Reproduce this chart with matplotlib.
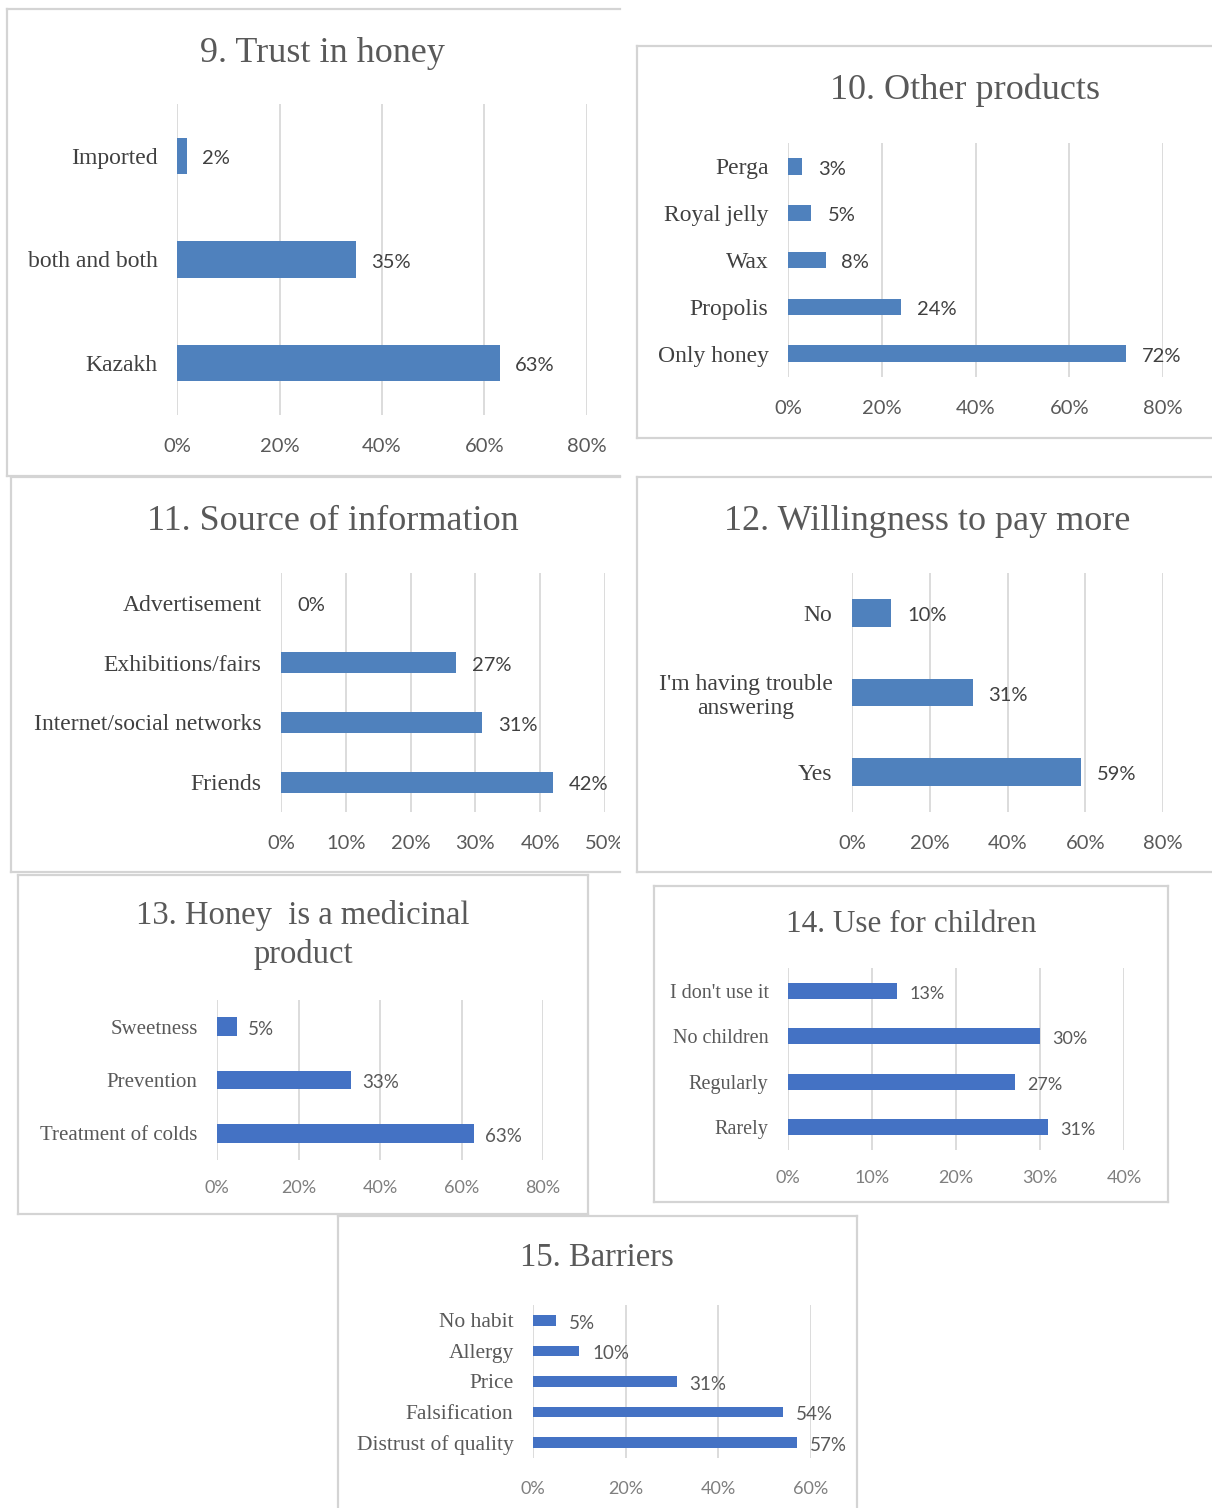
import numpy as np
import matplotlib
matplotlib.use("Agg")
import matplotlib.pyplot as plt
from matplotlib.lines import Line2D
from matplotlib.transforms import Bbox, TransformedBbox

W, H = 1212, 1508
SERIF = "Liberation Serif"
SANS = "Lato"

# data (categories top -> bottom)
trust_cats = ["Imported", "both and both", "Kazakh"]
trust_vals = [2, 35, 63]

other_cats = ["Perga", "Royal jelly", "Wax", "Propolis", "Only honey"]
other_vals = [3, 5, 8, 24, 72]

source_cats = ["Advertisement", "Exhibitions/fairs", "Internet/social networks", "Friends"]
source_vals = [0, 27, 31, 42]

pay_cats = ["No", "I'm having trouble\nanswering", "Yes"]
pay_vals = [10, 31, 59]

medic_cats = ["Sweetness", "Prevention", "Treatment of colds"]
medic_vals = [5, 33, 63]

child_cats = ["I don't use it", "No children", "Regularly", "Rarely"]
child_vals = [13, 30, 27, 31]

barrier_cats = ["No habit", "Allergy", "Price", "Falsification", "Distrust of quality"]
barrier_vals = [5, 10, 31, 54, 57]

BLUE1 = "#4F81BD"
BLUE2 = "#4472C4"
GRID = "#D9D9D9"
BORDER = "#D4D4D4"

fig = plt.figure(figsize=(W / 100, H / 100), dpi=100)
fig.patch.set_facecolor("white")


def fx(x):
    return x / W


def fy(y):
    return 1 - y / H


def line(x0, y0, x1, y1):
    fig.add_artist(Line2D([fx(x0), fx(x1)], [fy(y0), fy(y1)], color=BORDER, lw=1.6))


def box(x0, y0, x1, y1, sides="tlbr"):
    if "t" in sides:
        line(x0, y0, x1, y0)
    if "b" in sides:
        line(x0, y1, x1, y1)
    if "l" in sides:
        line(x0, y0, x0, y1)
    if "r" in sides:
        line(x1, y0, x1, y1)


def title(cx, cy, txt, size, ls=1.15):
    fig.text(fx(cx), fy(cy), txt, ha="center", va="center", fontsize=size,
             family=SERIF, color="#595959", linespacing=ls)


def panel(px, cats, vals, xmax, step, color, cat_size, tick_size, val_size,
          cat_color, tick_color, val_color, tick_dist, val_off, cat_pad=14, height=0.35):
    x0, x1, y0, y1 = px
    ax = fig.add_axes([fx(x0), fy(y1), (x1 - x0) / W, (y1 - y0) / H])
    n = len(cats)
    ypos = np.arange(n)
    ax.barh(ypos, vals, height=height, color=color, zorder=3)
    ax.set_xlim(0, xmax)
    ax.set_ylim(n - 0.5, -0.5)
    ticks = np.arange(0, xmax + 1, step)
    ax.set_xticks(ticks)
    ax.set_xticklabels([f"{t}%" for t in ticks], family=SANS, fontsize=tick_size, color=tick_color)
    ax.set_yticks(ypos)
    ax.set_yticklabels(cats, family=SERIF, fontsize=cat_size, color=cat_color)
    for lab in ax.get_yticklabels():
        lab.set_multialignment("center")
    em = tick_size * 100 / 72
    ax.tick_params(axis="x", length=0, pad=(tick_dist - 0.62 * em) * 0.72)
    ax.tick_params(axis="y", length=0, pad=cat_pad)
    ax.grid(axis="x", color=GRID, lw=1.3, zorder=0)
    for s in ax.spines.values():
        s.set_visible(False)
    ax.set_facecolor("none")
    for i, v in enumerate(vals):
        ax.annotate(f"{v}%", (v, i), xytext=(val_off * 0.72, -2), textcoords="offset points",
                    va="center", ha="left", family=SANS, fontsize=val_size, color=val_color)
    return ax


# 9. Trust in honey
box(7, 9, 620, 476, sides="tlb")
title(322, 53, "9. Trust in honey", 26)
panel((177, 587, 104, 415), trust_cats, trust_vals, 80, 20, BLUE1, 17, 14.5, 14.5,
      "#404040", "#595959", "#404040", 35, 15)

# 10. Other products
box(637, 46, 1212, 438, sides="tlb")
title(965, 90, "10. Other products", 26)
panel((788, 1163, 143, 377), other_cats, other_vals, 80, 20, BLUE1, 17, 14.5, 14.5,
      "#404040", "#595959", "#404040", 35, 16)

# 11. Source of information
box(11, 477, 620, 872, sides="tlb")
title(333, 522, "11. Source of information", 26)
ax11 = panel((281, 605, 573, 812), source_cats, source_vals, 50, 10, BLUE1, 17, 14.5, 14.5,
             "#404040", "#595959", "#404040", 35, 16)
clip = TransformedBbox(Bbox([[0, 0], [fx(620), 1]]), fig.transFigure)
for lab in ax11.get_xticklabels():
    lab.set_clip_box(clip)
    lab.set_clip_on(True)

# 12. Willingness to pay more
box(637, 477, 1212, 872, sides="tlb")
title(927, 522, "12. Willingness to pay more", 26)
panel((852, 1163, 573, 812), pay_cats, pay_vals, 80, 20, BLUE1, 17, 14.5, 14.5,
      "#404040", "#595959", "#404040", 35, 16)

# 13. Honey is a medicinal product
box(18, 875, 588, 1214)
title(303, 935, "13. Honey  is a medicinal\nproduct", 23.5, ls=1.3)
panel((217, 543, 1000, 1160), medic_cats, medic_vals, 80, 20, BLUE2, 15, 13, 13.5,
      "#595959", "#7F7F7F", "#595959", 31, 11)

# 14. Use for children
box(654, 886, 1168, 1202)
title(911, 925, "14. Use for children", 22.5)
panel((788, 1124, 968, 1150), child_cats, child_vals, 40, 10, BLUE2, 14.5, 13, 13,
      "#595959", "#7F7F7F", "#595959", 31, 12)

# 15. Barriers
box(338, 1216, 857, 1510, sides="tlr")
title(597, 1258, "15. Barriers", 23.5)
panel((533, 811, 1305, 1458), barrier_cats, barrier_vals, 60, 20, BLUE2, 15.5, 13, 13.5,
      "#595959", "#7F7F7F", "#595959", 34, 13)

fig.savefig("out.png", dpi=100, facecolor="white")
